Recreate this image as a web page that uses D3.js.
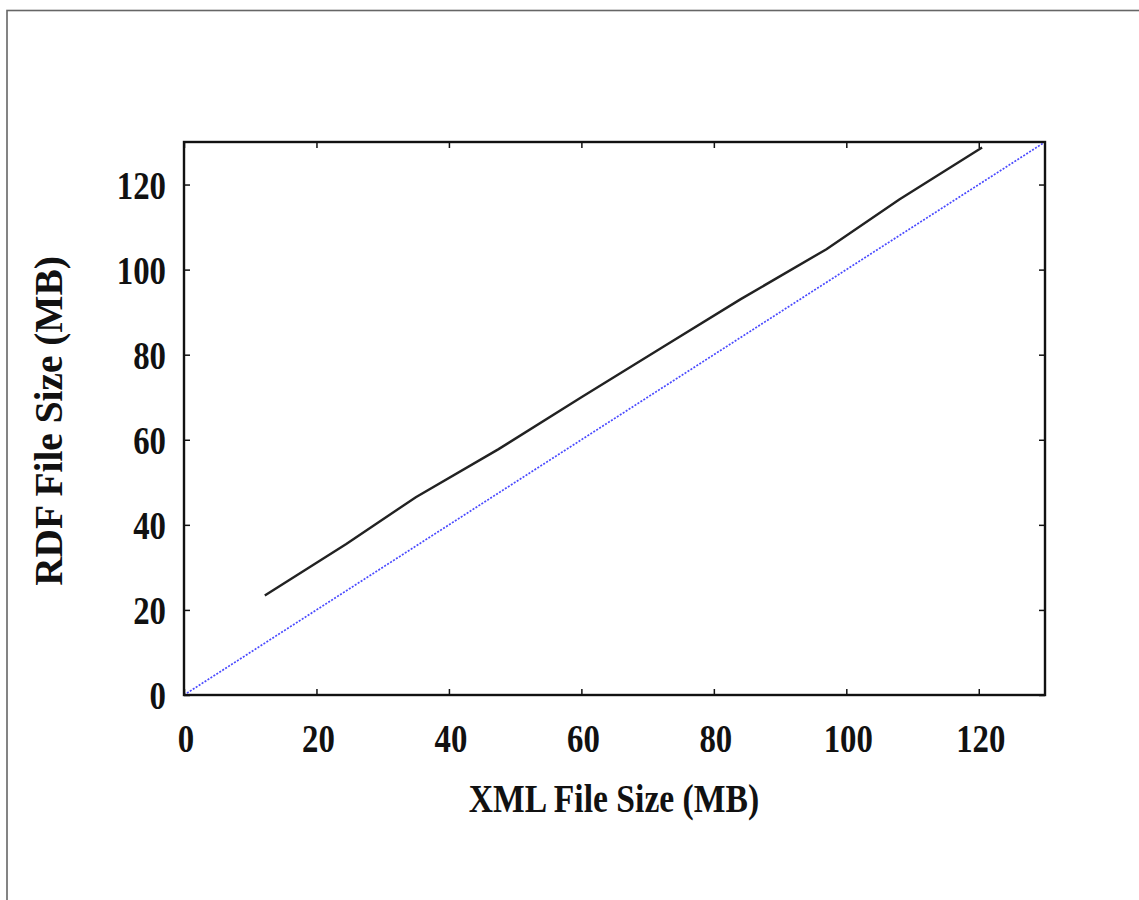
<!DOCTYPE html>
<html>
<head>
<meta charset="utf-8">
<script src="https://cdn.jsdelivr.net/npm/d3@7"></script>
<style>
  html, body { margin: 0; padding: 0; background: #fff; }
  svg { display: block; }
  text { font-family: "Liberation Serif", "Times New Roman", serif; font-weight: bold; fill: #111; }
</style>
</head>
<body>
<svg id="chart" width="1139" height="900"></svg>
<script>
// RDF output size measured against XML input size
const xmlSize = [12.2, 24.5, 35, 47.5, 60, 72, 84, 97, 108, 120.5];
const rdfSize = [23.4, 35.5, 46.5, 57.8, 70, 81.5, 93, 104.8, 116.5, 128.7];
// reference y = x diagonal
const diagX = [0, 130];
const diagY = [0, 130];
const tickValues = [0, 20, 40, 60, 80, 100, 120];
const xTitle = "XML File Size (MB)";
const yTitle = "RDF File Size (MB)";

const svg = d3.select("#chart");
const plotL = 184, plotR = 1045, plotT = 142, plotB = 695;

// page frame
svg.append("rect")
  .attr("x", 7).attr("y", 10.5)
  .attr("width", 1200).attr("height", 1000)
  .attr("fill", "none").attr("stroke", "#666").attr("stroke-width", 1.6);

const x = d3.scaleLinear().domain([0, 130]).range([plotL, plotR]);
const y = d3.scaleLinear().domain([0, 130]).range([plotB, plotT]);

// inward ticks on all four sides
const tick = 6;
const g = svg.append("g");
g.append("g").attr("transform", `translate(0,${plotB})`)
  .call(d3.axisTop(x).tickValues(tickValues).tickSize(tick).tickFormat(""));
g.append("g").attr("transform", `translate(0,${plotT})`)
  .call(d3.axisBottom(x).tickValues(tickValues).tickSize(tick).tickFormat(""));
g.append("g").attr("transform", `translate(${plotL},0)`)
  .call(d3.axisRight(y).tickValues(tickValues).tickSize(tick).tickFormat(""));
g.append("g").attr("transform", `translate(${plotR},0)`)
  .call(d3.axisLeft(y).tickValues(tickValues).tickSize(tick).tickFormat(""));
g.selectAll(".domain").remove();
g.selectAll(".tick line").attr("stroke", "#111").attr("stroke-width", 1.5);

// tick labels (narrow bold serif)
const sx = 0.8;
svg.append("g").selectAll("text").data(tickValues).join("text")
  .attr("transform", d => `translate(${x(d) + 2},752) scale(${sx},1)`)
  .attr("text-anchor", "middle")
  .attr("font-size", 41)
  .text(d => d);
svg.append("g").selectAll("text").data(tickValues).join("text")
  .attr("transform", d => `translate(166,${y(d) + 14}) scale(${sx},1)`)
  .attr("text-anchor", "end")
  .attr("font-size", 41)
  .text(d => d);

// axis titles
svg.append("text")
  .attr("transform", `translate(614,812) scale(0.82,1)`)
  .attr("text-anchor", "middle")
  .attr("font-size", 41)
  .text(xTitle);
svg.append("text")
  .attr("transform", `translate(62,421) rotate(-90) scale(0.96,1)`)
  .attr("text-anchor", "middle")
  .attr("font-size", 41)
  .text(yTitle);

svg.append("clipPath").attr("id", "plot")
  .append("rect").attr("x", plotL).attr("y", plotT)
  .attr("width", plotR - plotL).attr("height", plotB - plotT);

// y = x diagonal, dotted blue
svg.append("path")
  .datum(d3.zip(diagX, diagY))
  .attr("clip-path", "url(#plot)")
  .attr("fill", "none")
  .attr("stroke", "#4a4aff")
  .attr("stroke-width", 1.7)
  .attr("stroke-dasharray", "2,1.5")
  .attr("d", d3.line().x(d => x(d[0])).y(d => y(d[1])));

// measured series
svg.append("path")
  .datum(d3.zip(xmlSize, rdfSize))
  .attr("fill", "none")
  .attr("stroke", "#222")
  .attr("stroke-width", 2.4)
  .attr("d", d3.line().x(d => x(d[0])).y(d => y(d[1])));

// plot frame
svg.append("rect")
  .attr("x", plotL).attr("y", plotT)
  .attr("width", plotR - plotL).attr("height", plotB - plotT)
  .attr("fill", "none").attr("stroke", "#111").attr("stroke-width", 2.4);
</script>
</body>
</html>
